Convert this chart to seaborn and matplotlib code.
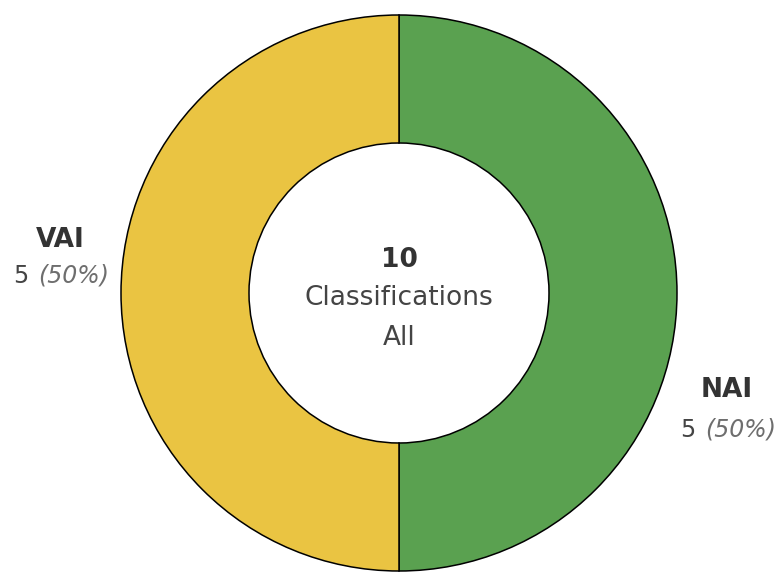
import matplotlib
matplotlib.use("Agg")
import matplotlib.pyplot as plt
import seaborn as sns

# data
labels = ["NAI", "VAI"]
counts = [5, 5]
colors = ["#5aa150", "#eac442"]
center_total = "10"
center_lines = ["Classifications", "All"]

sns.set_style("white")
plt.rcParams["font.family"] = ["DejaVu Sans"]

W, H = 781, 573
fig = plt.figure(figsize=(W / 100, H / 100), dpi=100)
ax = fig.add_axes([0, 0, 1, 1])

cx, cy, r = 399, H - 293, 278
ax.pie(counts, colors=colors, startangle=90, counterclock=False,
       center=(cx, cy), radius=r,
       wedgeprops=dict(width=r - 150, edgecolor="black", linewidth=1.1))
ax.set_xlim(0, W)
ax.set_ylim(0, H)
ax.set_aspect("equal")
ax.axis("off")

total = sum(counts)
pcts = [100 * c / total for c in counts]

# centre text (baseline positions, px from top)
ax.text(cx, H - 267, center_total, ha="center", va="baseline", fontsize=19,
        fontweight="bold", color="#333333")
ax.text(cx, H - 305, center_lines[0], ha="center", va="baseline", fontsize=19,
        color="#444444")
ax.text(cx, H - 345, center_lines[1], ha="center", va="baseline", fontsize=19,
        color="#444444")

# outside labels: name centre x, name baseline, value left x, value baseline
pos = {"NAI": (727, 397, 680, 437), "VAI": (60, 247, 13, 283)}
for lab, c, p in zip(labels, counts, pcts):
    lx, ly, vx, vy = pos[lab]
    ax.text(lx, H - ly, lab, ha="center", va="baseline", fontsize=19,
            fontweight="bold", color="#333333")
    ax.text(vx, H - vy, f"{c}", ha="left", va="baseline", fontsize=17,
            color="#444444")
    ax.text(vx + 25, H - vy, f"({p:.0f}%)", ha="left", va="baseline",
            fontsize=17, style="italic", color="#6e6e6e")

fig.savefig("out.png", dpi=100)
